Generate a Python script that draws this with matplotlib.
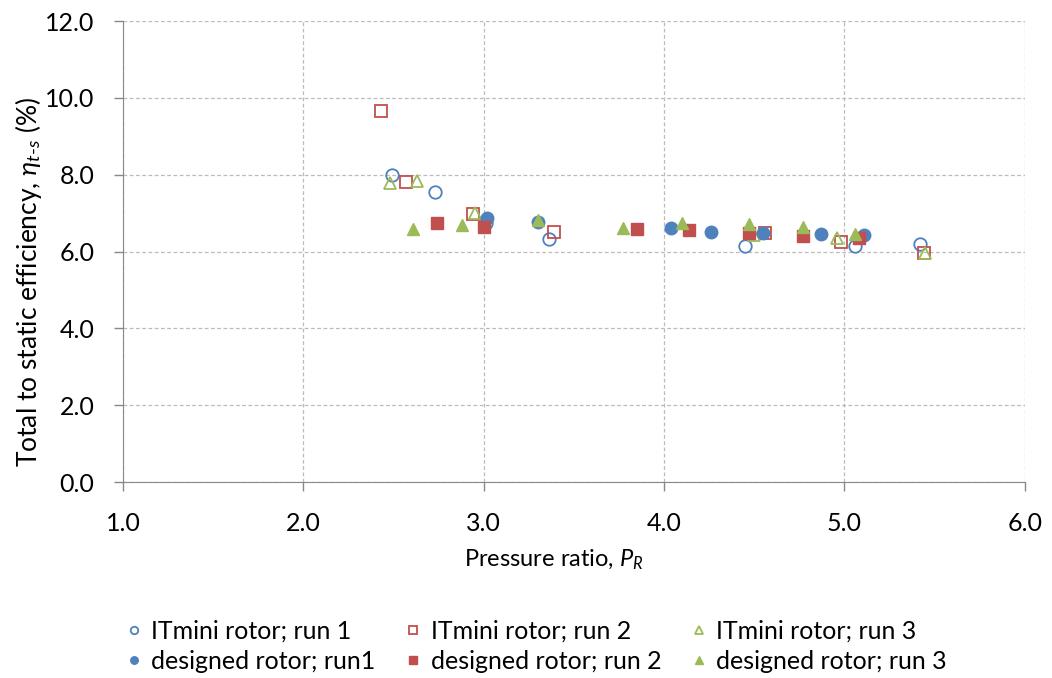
import matplotlib
matplotlib.use("Agg")
import matplotlib.pyplot as plt

plt.rcParams['font.family'] = ['Lato', 'DejaVu Sans']
plt.rcParams['mathtext.fontset'] = 'custom'
plt.rcParams['mathtext.rm'] = 'Lato'
plt.rcParams['mathtext.it'] = 'Lato:italic'

# ITmini rotor runs (open markers)
it1_pr = [2.49, 2.73, 3.01, 3.36, 4.45, 5.06, 5.42]
it1_eff = [7.99, 7.54, 6.74, 6.32, 6.15, 6.15, 6.19]
it2_pr = [2.43, 2.57, 2.94, 3.39, 4.56, 4.98, 5.44]
it2_eff = [9.66, 7.80, 6.98, 6.52, 6.48, 6.26, 5.97]
it3_pr = [2.48, 2.63, 2.95, 4.50, 4.96, 5.45]
it3_eff = [7.78, 7.84, 7.01, 6.43, 6.35, 5.97]

# designed rotor runs (filled markers)
d1_pr = [3.02, 3.30, 4.04, 4.26, 4.55, 4.87, 5.11]
d1_eff = [6.88, 6.77, 6.61, 6.50, 6.48, 6.46, 6.43]
d2_pr = [2.74, 3.00, 3.85, 4.14, 4.47, 4.77, 5.08]
d2_eff = [6.74, 6.65, 6.58, 6.55, 6.48, 6.40, 6.35]
d3_pr = [2.61, 2.88, 3.30, 3.77, 4.10, 4.47, 4.77, 5.06]
d3_eff = [6.58, 6.70, 6.82, 6.62, 6.74, 6.72, 6.63, 6.46]

xticks = [1, 2, 3, 4, 5, 6]
yticks = [0, 2, 4, 6, 8, 10, 12]

blue = '#4F81BD'
red = '#C0504D'
green = '#9BBB59'

fig = plt.figure(figsize=(10.52, 6.78), dpi=100)
ax = fig.add_axes([0.117, 0.289, 0.857, 0.680])

ms = 9
h1, = ax.plot(it1_pr, it1_eff, 'o', mfc='none', mec=blue, mew=1.3, ms=ms, label='ITmini rotor; run 1')
h2, = ax.plot(it2_pr, it2_eff, 's', mfc='none', mec=red, mew=1.3, ms=ms, label='ITmini rotor; run 2')
h3, = ax.plot(it3_pr, it3_eff, '^', mfc='none', mec=green, mew=1.3, ms=ms, label='ITmini rotor; run 3')
h4, = ax.plot(d1_pr, d1_eff, 'o', color=blue, ms=ms, label='designed rotor; run1')
h5, = ax.plot(d2_pr, d2_eff, 's', color=red, ms=ms, label='designed rotor; run 2')
h6, = ax.plot(d3_pr, d3_eff, '^', color=green, ms=ms, label='designed rotor; run 3')

ax.set_xlim(1.0, 6.0)
ax.set_ylim(0.0, 12.0)
ax.set_xticks(xticks)
ax.set_yticks(yticks)
ax.set_xticklabels(['%.1f' % v for v in xticks])
ax.set_yticklabels(['%.1f' % v for v in yticks])
ax.tick_params(labelsize=18, colors='#888888', labelcolor='black', length=6.5, width=1)
ax.tick_params(axis='y', pad=14)
ax.tick_params(axis='x', pad=15)
ax.grid(True, color='#BBBBBB', linestyle=(0, (3, 2)), linewidth=0.9)
ax.set_axisbelow(True)
for s in ['top', 'right']:
    ax.spines[s].set_visible(False)
for s in ['left', 'bottom']:
    ax.spines[s].set_color('#888888')

ax.set_xlabel(r'Pressure ratio, $P_R$', fontsize=17)
ax.xaxis.set_label_coords(0.478, -0.142)
ax.set_ylabel(r'Total to static efficiency, $\eta_{t\text{-}s}$ (%)', fontsize=19)
ax.yaxis.set_label_coords(-0.088, 0.434)

handles = [h1, h4, h2, h5, h3, h6]
leg = fig.legend(handles, [h.get_label() for h in handles],
                 ncol=3, loc='center', bbox_to_anchor=(0.51, 0.047), frameon=False,
                 fontsize=18, markerscale=0.6, handlelength=0.6, handletextpad=0.4,
                 columnspacing=1.2, labelspacing=0.3)

fig.savefig('out.png', dpi=100)
